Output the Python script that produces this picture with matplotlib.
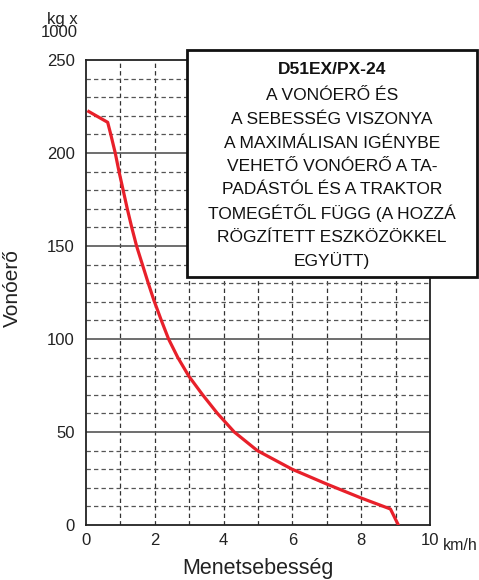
import numpy as np
import matplotlib
matplotlib.use("Agg")
import matplotlib.pyplot as plt
from matplotlib.patches import Rectangle
import matplotlib.transforms as mtransforms

plt.rcParams['font.family'] = ['Liberation Sans', 'DejaVu Sans']

# vonóerő görbe (km/h, kg x 1000)
speed = [0.08, 0.63, 0.72, 0.85, 0.96, 1.08, 1.20, 1.33, 1.47, 1.64, 1.81, 1.97,
         2.19, 2.40, 2.67, 2.99, 3.39, 3.82, 4.31, 4.98, 5.99, 7.0, 8.0, 8.85, 9.08]
force = [222.3, 216.5, 210, 200, 190, 180, 170, 160, 150, 140, 130, 121,
         110, 100, 90, 80, 70, 60, 50, 40, 30, 22, 14.5, 8.6, 0]

x_ticks = [0, 2, 4, 6, 8, 10]
y_ticks = [0, 50, 100, 150, 200, 250]

box_title = "D51EX/PX-24"
box_lines = ["A VONÓERŐ ÉS",
             "A SEBESSÉG VISZONYA",
             "A MAXIMÁLISAN IGÉNYBE",
             "VEHETŐ VONÓERŐ A TA-",
             "PADÁSTÓL ÉS A TRAKTOR",
             "TOMEGÉTŐL FÜGG (A HOZZÁ",
             "RÖGZÍTETT ESZKÖZÖKKEL",
             "EGYÜTT)"]

fig = plt.figure(figsize=(4.79, 5.8), dpi=100)
ax = fig.add_axes([86/479, 1-525/580, 344/479, 465/580])

ax.set_xlim(0, 10)
ax.set_ylim(0, 250)

# rács
for xv in range(1, 10):
    ax.axvline(xv, color='#333333', lw=0.9, ls=(0, (3.5, 2.5)), zorder=1)
for yv in range(10, 250, 10):
    if yv % 50 == 0:
        ax.axhline(yv, color='#555555', lw=1.2, zorder=1)
    else:
        ax.axhline(yv, color='#555555', lw=0.9, ls=(0, (3.5, 2.5)), zorder=1)

ax.plot(speed, force, color='#e8202a', lw=2.3, zorder=3)

for sp in ax.spines.values():
    sp.set_linewidth(1.3)
    sp.set_color('#222222')

ax.set_xticks(x_ticks)
ax.set_xticklabels([str(v) for v in x_ticks])
ax.set_yticks(y_ticks)
ax.tick_params(length=0, labelsize=12, colors='#222222', pad=6)
ax.tick_params(axis='y', pad=8)

trans = mtransforms.blended_transform_factory(ax.transData, ax.transAxes)
ax.text(10.38, -0.0275, "km/h", transform=trans, ha='left', va='top', fontsize=11.5, color='#222222')

fig.text(258/479, 6/580, "Menetsebesség", ha='center', va='baseline', fontsize=15.5, color='#222222')
fig.text(12/479, 1-288/580, "Vonóerő", rotation=90, ha='center', va='center', fontsize=15, color='#222222')
fig.text(78/479, 1-26/580, "kg x\n1000", ha='right', va='center', fontsize=12,
         linespacing=0.9, color='#222222')

# szövegdoboz
bx0, bx1 = 187/479, 477/479
by0, by1 = 1-277/580, 1-50/580
fig.patches.append(Rectangle((bx0, by0), bx1-bx0, by1-by0, transform=fig.transFigure,
                             facecolor='white', edgecolor='#111111', lw=2, zorder=5))
cx = (bx0 + bx1) / 2
fig.text(cx, 1-70/580, box_title, ha='center', va='center', fontsize=12.5,
         fontweight='bold', color='#111111', zorder=6)
for i, line in enumerate(box_lines):
    fig.text(cx, 1-(96 + i*23.5)/580, line, ha='center', va='center', fontsize=12.5,
             color='#111111', zorder=6)

fig.savefig("out.png", dpi=100)
